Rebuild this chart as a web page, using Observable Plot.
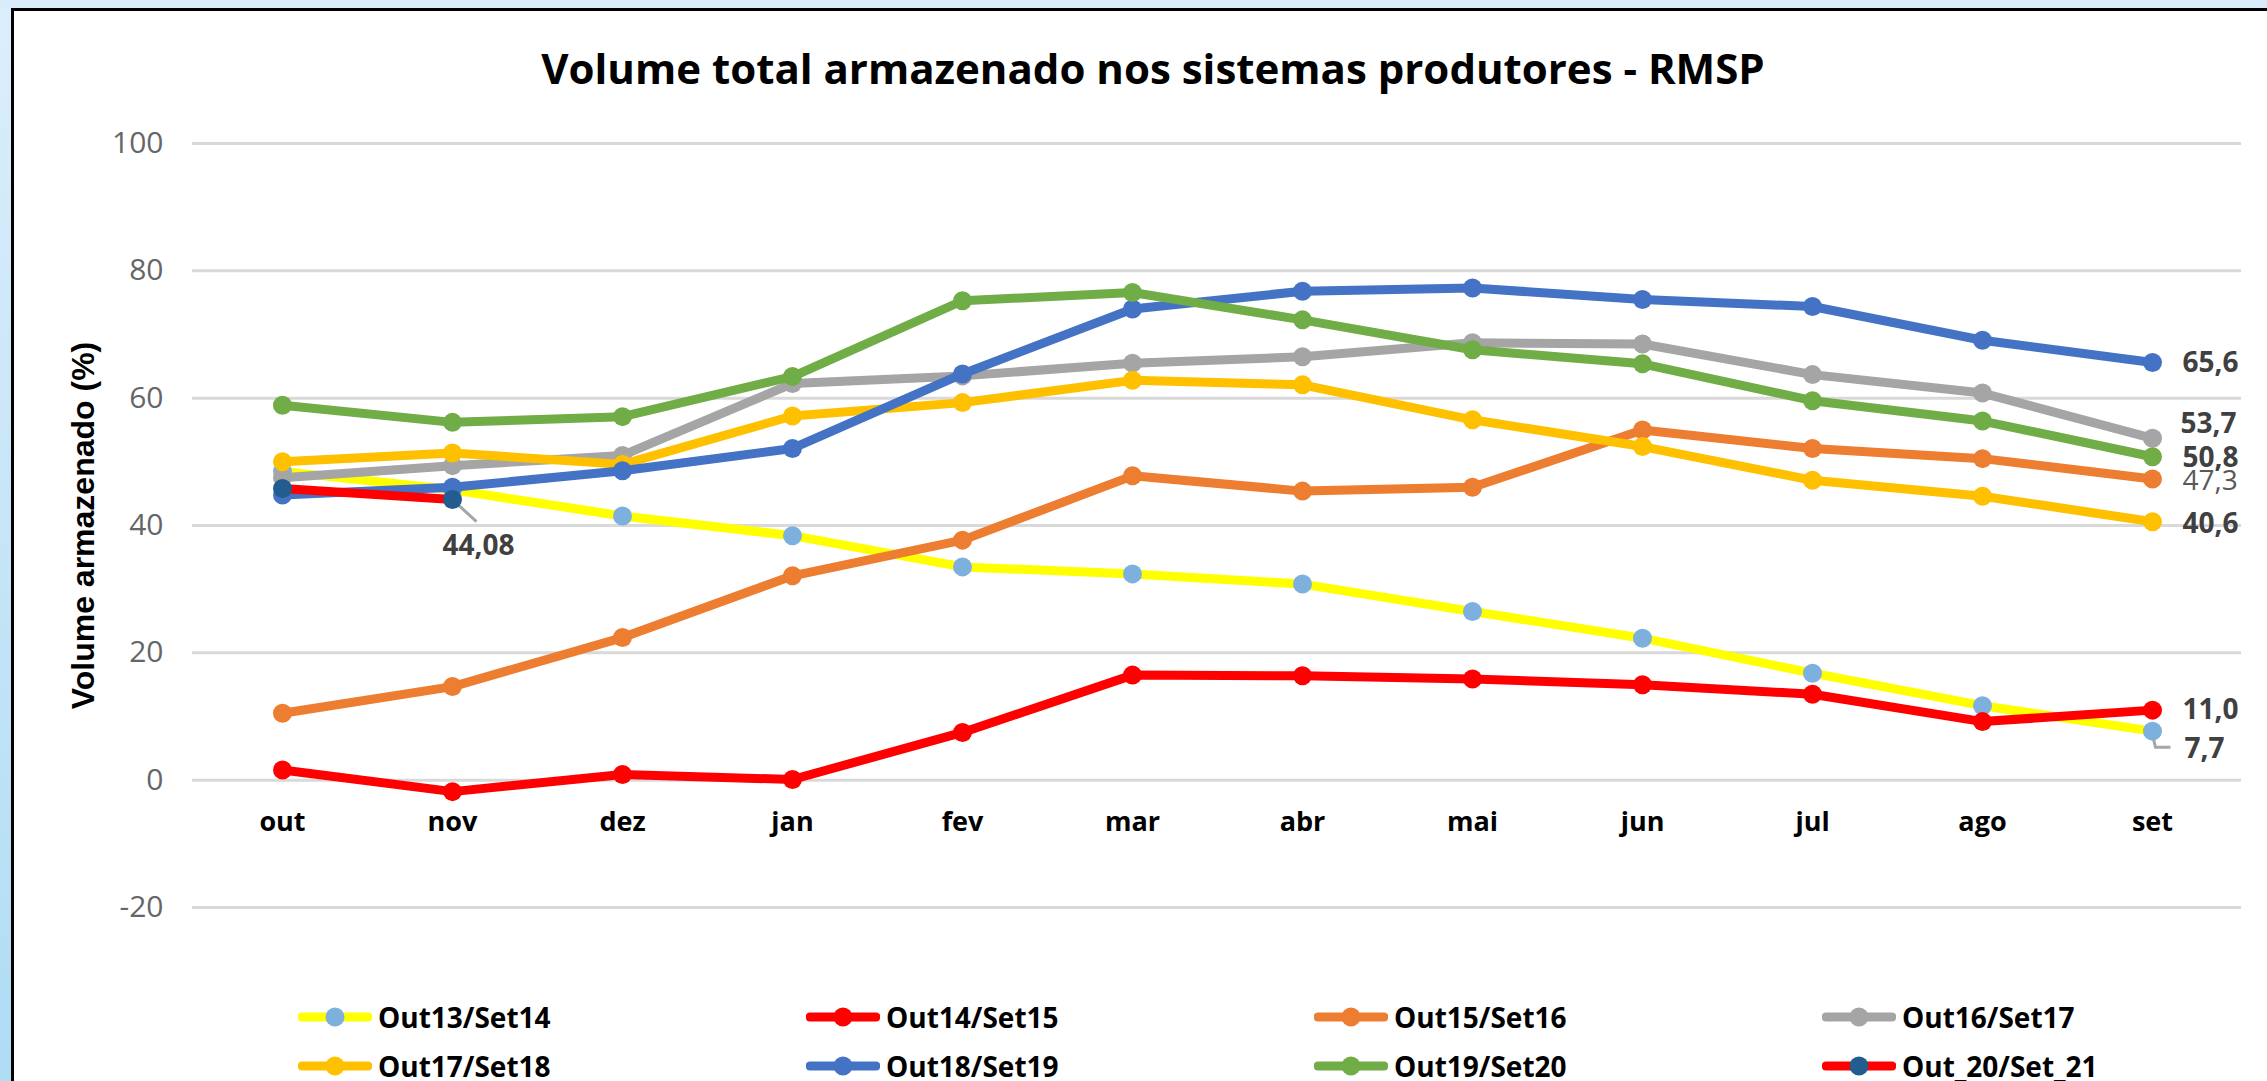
<!DOCTYPE html>
<html><head><meta charset="utf-8">
<script src="https://cdn.jsdelivr.net/npm/d3@7"></script>
<script src="https://cdn.jsdelivr.net/npm/@observablehq/plot@0.6"></script>
<style>
html{margin:0;padding:0;overflow:hidden;background:#fff;}
body{margin:0;padding:0;width:2267px;height:1081px;overflow:hidden;position:relative;background:#fff;}
#stripLeft{position:absolute;left:0;top:0;width:11px;height:1081px;background:linear-gradient(to bottom,#DCEEFB,#B0DCF4);}
#stripTop{position:absolute;left:0;top:0;width:2267px;height:8px;background:#D8EBF9;}
#borderTop{position:absolute;left:11px;top:8px;width:2256px;height:3px;background:#000;}
#borderLeft{position:absolute;left:11px;top:8px;width:3px;height:1073px;background:#000;}
#title{position:absolute;left:0;width:2306px;top:40px;text-align:center;font:bold 42px "Open Sans";color:#000;line-height:56px;white-space:nowrap;}
#chart{position:absolute;left:14px;top:95px;}
#legend{position:absolute;left:0;top:0;}
.item{position:absolute;display:flex;align-items:center;font:bold 28px "Open Sans";color:#000;height:40px;white-space:nowrap;}
.item svg{margin-right:6px;}
</style></head><body>
<div id="stripLeft"></div><div id="stripTop"></div><div id="borderTop"></div><div id="borderLeft"></div>
<div id="title">Volume total armazenado nos sistemas produtores - RMSP</div>
<div id="chart"></div>
<div id="legend"></div>
<script>
// ---- data ----
const months = ["out","nov","dez","jan","fev","mar","abr","mai","jun","jul","ago","set"];
const seriesNames = ["Out13/Set14","Out14/Set15","Out15/Set16","Out16/Set17","Out17/Set18","Out18/Set19","Out19/Set20","Out_20/Set_21"];
const out13set14 = [48.5, 45.6, 41.5, 38.4, 33.5, 32.4, 30.8, 26.5, 22.3, 16.8, 11.7, 7.7];
const out14set15 = [1.6, -1.8, 0.9, 0.1, 7.5, 16.5, 16.4, 15.9, 15.0, 13.5, 9.2, 11.0];
const out15set16 = [10.5, 14.7, 22.4, 32.1, 37.7, 47.8, 45.4, 46.0, 55.0, 52.1, 50.5, 47.3];
const out16set17 = [47.5, 49.4, 51.0, 62.3, 63.5, 65.5, 66.5, 68.7, 68.5, 63.7, 60.8, 53.7];
const out17set18 = [50.0, 51.4, 49.6, 57.2, 59.3, 62.8, 62.1, 56.6, 52.4, 47.1, 44.6, 40.6];
const out18set19 = [44.8, 46.0, 48.6, 52.1, 63.8, 74.0, 76.8, 77.3, 75.5, 74.4, 69.1, 65.6];
const out19set20 = [58.9, 56.2, 57.1, 63.4, 75.3, 76.6, 72.3, 67.6, 65.4, 59.6, 56.4, 50.8];
const out20set21 = [45.8, 44.08];
const yTicks = [-20, 0, 20, 40, 60, 80, 100];
const endLabelSeries = ["Out18/Set19","Out16/Set17","Out19/Set20","Out15/Set16","Out17/Set18","Out14/Set15","Out13/Set14"];
const yTitle = "Volume armazenado (%)";

// ---- styles ----
const seriesValues = [out13set14,out14set15,out15set16,out16set17,out17set18,out18set19,out19set20,out20set21];
const lineColors = ["#FFFF00","#FF0000","#ED7D31","#A5A5A5","#FFC000","#4472C4","#70AD47","#FF0000"];
const markerColors = ["#7EB0DE","#FF0000","#ED7D31","#A5A5A5","#FFC000","#4472C4","#70AD47","#235C8F"];
const FONT = "Open Sans";

const rows = seriesNames.map((name, i) => seriesValues[i].map((v, j) => ({series: name, month: months[j], value: v})));
const fmt1 = v => v.toFixed(1).replace(".", ",");
const fmt2 = v => v.toFixed(2).replace(".", ",");

const labelStyle = {
  "Out18/Set19": {dx: 30, dy: 1},
  "Out16/Set17": {dx: 28, dy: -14},
  "Out19/Set20": {dx: 30, dy: 1},
  "Out15/Set16": {dx: 30, dy: 2, fontWeight: "normal", fill: "#595959"},
  "Out17/Set18": {dx: 30, dy: 2},
  "Out14/Set15": {dx: 30, dy: 0},
  "Out13/Set14": {dx: 32, dy: 18}
};

// leader line shapes (pixel offsets from the labelled point)
const leaderL = {draw(ctx) { ctx.moveTo(0, 4); ctx.lineTo(3, 16); ctx.lineTo(18, 16); }};
const leaderDiag = {draw(ctx) { ctx.moveTo(2, 2); ctx.lineTo(24, 22); }};

const marks = [];
marks.push(Plot.ruleY(yTicks, {stroke: "#D9D9D9", strokeWidth: 3}));
marks.push(Plot.text(yTicks, {y: d => d, text: d => String(d), frameAnchor: "left", textAnchor: "end", dx: -29,
  fontFamily: FONT, fontSize: 30, fill: "#666666"}));
marks.push(Plot.text([yTitle], {y: 40, text: d => d, frameAnchor: "left", textAnchor: "middle", lineAnchor: "middle", dx: -109, rotate: -90,
  fontFamily: "Liberation Sans", fontWeight: "bold", fontSize: 32, fill: "#000"}));
marks.push(Plot.text(months, {x: d => d, y: 0, text: d => d, dy: 42, fontFamily: FONT, fontWeight: "bold", fontSize: 27, fill: "#000"}));

// leaders (under the series)
const lastOf = name => rows[seriesNames.indexOf(name)].at(-1);
marks.push(Plot.dot([lastOf("Out13/Set14")], {x: "month", y: "value", symbol: leaderL, r: 5, fill: "none", stroke: "#A6A6A6", strokeWidth: 3}));
marks.push(Plot.dot([rows[7][1]], {x: "month", y: "value", symbol: leaderDiag, r: 5, fill: "none", stroke: "#A6A6A6", strokeWidth: 3}));

rows.forEach((data, i) => {
  marks.push(Plot.line(data, {x: "month", y: "value", stroke: lineColors[i], strokeWidth: 9, strokeLinejoin: "round", strokeLinecap: "round"}));
  marks.push(Plot.dot(data, {x: "month", y: "value", r: 9.5, fill: markerColors[i], stroke: "none"}));
});

endLabelSeries.forEach(name => {
  const s = labelStyle[name];
  marks.push(Plot.text([lastOf(name)], {x: "month", y: "value", text: d => fmt1(d.value), textAnchor: "start",
    dx: s.dx, dy: s.dy, fontFamily: FONT, fontSize: 28, fontWeight: s.fontWeight || "bold", fill: s.fill || "#404040"}));
});
marks.push(Plot.text([rows[7][1]], {x: "month", y: "value", text: d => fmt2(d.value), dx: 26, dy: 47,
  fontFamily: FONT, fontSize: 28, fontWeight: "bold", fill: "#404040"}));

const chart = Plot.plot({
  width: 2253, height: 860,
  marginLeft: 178, marginRight: 26, marginTop: 48, marginBottom: 48,
  x: {type: "point", domain: months, padding: 0.5, axis: null},
  y: {domain: [-20, 100], axis: null},
  style: {background: "transparent", overflow: "visible", maxWidth: "none"},
  marks
});
document.getElementById("chart").appendChild(chart);

// ---- legend ----
const legend = document.getElementById("legend");
seriesNames.forEach((name, i) => {
  const col = i % 4, row = Math.floor(i / 4);
  const item = document.createElement("div");
  item.className = "item";
  item.style.left = (298 + col * 508) + "px";
  item.style.top = (997 + row * 49) + "px";
  item.innerHTML = `<svg width="74" height="24"><line x1="4" x2="70" y1="12" y2="12" stroke="${lineColors[i]}" stroke-width="9" stroke-linecap="round"/><circle cx="37" cy="12" r="9.5" fill="${markerColors[i]}"/></svg><span>${name}</span>`;
  legend.appendChild(item);
});
</script>
</body></html>
